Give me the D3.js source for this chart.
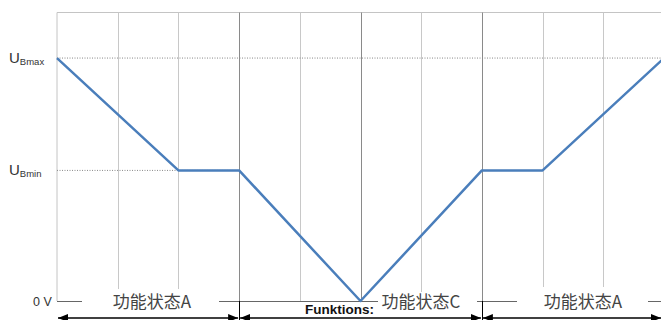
<!DOCTYPE html>
<html>
<head>
<meta charset="utf-8">
<script src="https://cdn.jsdelivr.net/npm/d3@7"></script>
<style>
  html, body { margin: 0; padding: 0; background: #fff; }
  svg { display: block; }
</style>
</head>
<body>
<div id="chart"></div>
<script>
// phase positions (grid units) and voltage at each breakpoint
const phaseX = [0, 2, 3, 5, 7, 8, 10];
const voltage = [16, 8.6, 8.6, 0, 8.6, 8.6, 16];
const gridX = [1, 2, 3, 4, 5, 6, 7, 8, 9];
const majorX = [3, 5, 7];
const uMax = 16;
const uMin = 8.6;
const stateSpans = [[0, 3], [3, 7], [7, 10]];
const stateLabels = ["功能状态A", "功能状态C", "功能状态A"];

function drawChart(containerId) {
    const container = document.getElementById(containerId);
    container.innerHTML = '';

    const width = 661, height = 320;
    const svg = d3.select(container)
        .append("svg")
        .attr("width", width)
        .attr("height", height)
        .style("font-family", "'Liberation Sans', Arial, sans-serif");

    const x = d3.scaleLinear().domain([0, 10]).range([57, 664]);
    const y = d3.scaleLinear().domain([0, 19]).range([301, 12.5]);

    // grid box
    svg.append("line")
        .attr("x1", x(0)).attr("x2", x(10))
        .attr("y1", y(19)).attr("y2", y(19))
        .attr("stroke", "#c4c4c4");
    svg.append("line")
        .attr("x1", x(0)).attr("x2", x(0))
        .attr("y1", y(19)).attr("y2", y(0))
        .attr("stroke", "#c4c4c4");

    svg.selectAll("line.grid")
        .data(gridX)
        .enter()
        .append("line")
        .attr("class", "grid")
        .attr("x1", d => Math.round(x(d)) + 0.5)
        .attr("x2", d => Math.round(x(d)) + 0.5)
        .attr("y1", y(19))
        .attr("y2", y(0))
        .attr("stroke", d => majorX.includes(d) ? "#8a8a8a" : "#c8c8c8");

    // dotted reference levels
    svg.append("line")
        .attr("x1", x(0)).attr("x2", x(10))
        .attr("y1", y(uMax)).attr("y2", y(uMax))
        .attr("stroke", "#888")
        .attr("stroke-dasharray", "1,1.5");
    svg.append("line")
        .attr("x1", x(0)).attr("x2", x(3))
        .attr("y1", y(uMin)).attr("y2", y(uMin))
        .attr("stroke", "#888")
        .attr("stroke-dasharray", "1,1.5");

    // 0 V base line
    svg.append("line")
        .attr("x1", x(0)).attr("x2", x(10))
        .attr("y1", y(0) + 0.5).attr("y2", y(0) + 0.5)
        .attr("stroke", "#666");

    // voltage curve
    const line = d3.line()
        .x((d, i) => x(phaseX[i]))
        .y(d => y(d));
    svg.append("path")
        .attr("d", line(voltage))
        .attr("fill", "none")
        .attr("stroke", "#4a7ebb")
        .attr("stroke-width", 2.5)
        .attr("stroke-linejoin", "round");

    // y labels
    const yLabels = [
        { v: uMax, main: "U", sub: "Bmax" },
        { v: uMin, main: "U", sub: "Bmin" }
    ];
    yLabels.forEach(d => {
        const t = svg.append("text")
            .attr("x", 9)
            .attr("y", y(d.v) + 5)
            .attr("fill", "#333")
            .style("font-size", "15px");
        t.append("tspan").text(d.main);
        t.append("tspan")
            .attr("dy", 2)
            .style("font-size", "9.5px")
            .text(d.sub);
    });
    svg.append("text")
        .attr("x", 33)
        .attr("y", y(0) + 5)
        .attr("fill", "#333")
        .style("font-size", "12.5px")
        .text("0 V");

    // state labels with white boxes cutting the base line
    const boxes = [
        { x0: 82, x1: 219, top: 289, cx: 152 },
        { x0: 378, x1: 477, top: 292, cx: 421 },
        { x0: 517, x1: 648, top: 287, cx: 583 }
    ];
    boxes.forEach((b, i) => {
        svg.append("rect")
            .attr("x", b.x0).attr("y", b.top)
            .attr("width", b.x1 - b.x0).attr("height", 24)
            .attr("fill", "#fff");
        svg.append("text")
            .attr("x", b.cx)
            .attr("y", 308)
            .attr("text-anchor", "middle")
            .attr("fill", "#444")
            .style("font-family", "'Noto Sans CJK SC', sans-serif")
            .style("font-size", "17px")
            .text(stateLabels[i]);
    });

    svg.append("text")
        .attr("x", 305)
        .attr("y", 314)
        .attr("fill", "#111")
        .style("font-size", "13.5px")
        .style("font-weight", "bold")
        .text("Funktions:");

    // arrows marking the states
    svg.append("defs").append("marker")
        .attr("id", "arrow")
        .attr("viewBox", [0, 0, 10, 8])
        .attr("refX", 10)
        .attr("refY", 4)
        .attr("markerWidth", 10)
        .attr("markerHeight", 8)
        .attr("markerUnits", "userSpaceOnUse")
        .attr("orient", "auto-start-reverse")
        .append("path")
        .attr("d", d3.line()([[0, 0], [10, 4], [0, 8]]))
        .attr("fill", "#000");

    svg.selectAll("line.span")
        .data(stateSpans)
        .enter()
        .append("line")
        .attr("class", "span")
        .attr("x1", d => x(d[0]) + 1)
        .attr("x2", d => Math.min(x(d[1]) - 1, width))
        .attr("y1", 318).attr("y2", 318)
        .attr("stroke", "#000")
        .attr("stroke-width", 1.5)
        .attr("marker-start", "url(#arrow)")
        .attr("marker-end", "url(#arrow)");

    svg.selectAll("line.divider")
        .data([3, 7])
        .enter()
        .append("line")
        .attr("class", "divider")
        .attr("x1", d => Math.round(x(d)) + 0.5)
        .attr("x2", d => Math.round(x(d)) + 0.5)
        .attr("y1", y(0))
        .attr("y2", height)
        .attr("stroke", "#000");
}

drawChart("chart");
</script>
</body>
</html>
